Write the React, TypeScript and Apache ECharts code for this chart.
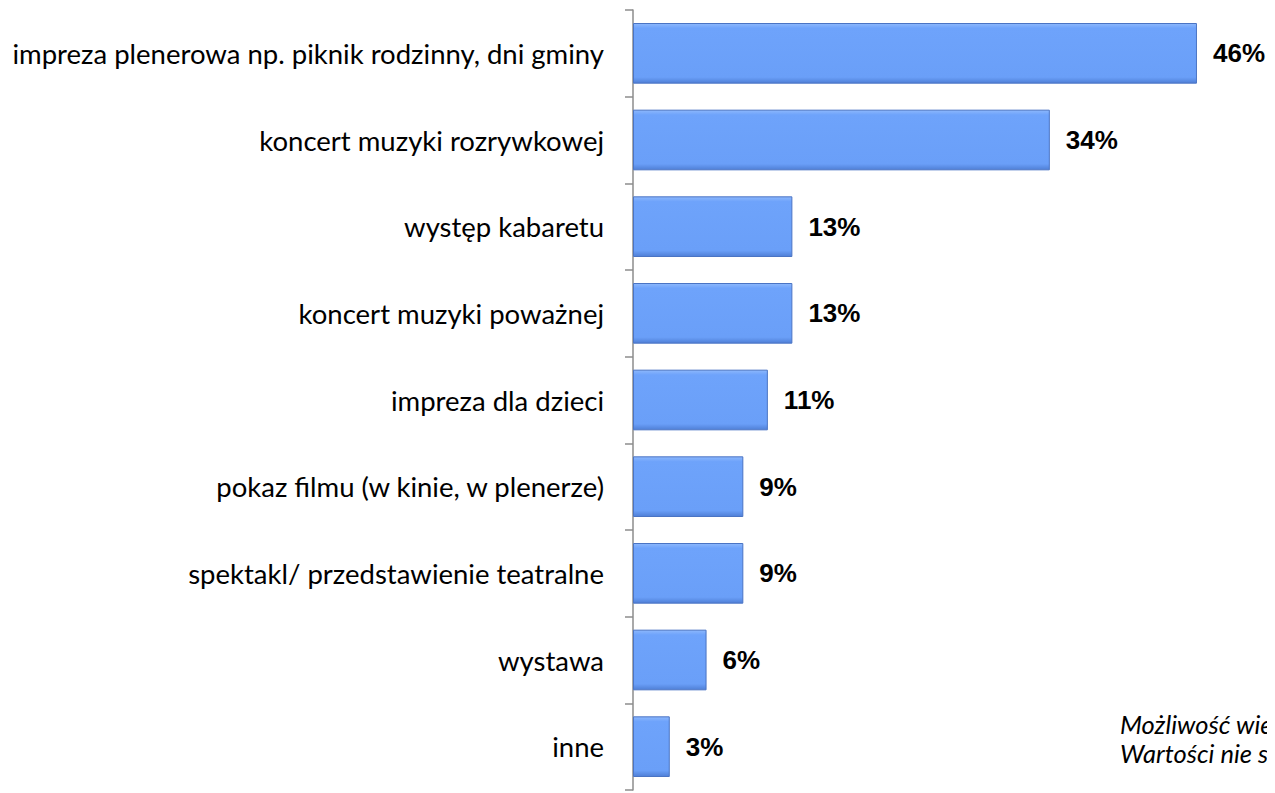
import React, { useEffect, useRef } from "react";
import * as echarts from "echarts";

const categories = [
  "impreza plenerowa np. piknik rodzinny, dni gminy",
  "koncert muzyki rozrywkowej",
  "występ kabaretu",
  "koncert muzyki poważnej",
  "impreza dla dzieci",
  "pokaz filmu (w kinie, w plenerze)",
  "spektakl/ przedstawienie teatralne",
  "wystawa",
  "inne",
];
const values = [46, 34, 13, 13, 11, 9, 9, 6, 3];
const noteLines = ["Możliwość wielokrotnego wyboru.", "Wartości nie sumują się do 100%."];

export default function App() {
  const ref = useRef<HTMLDivElement>(null);
  useEffect(() => {
    const chart = echarts.init(ref.current!, null, { renderer: "svg" });
    chart.setOption({
      animation: false,
      grid: { left: 625, top: 2, width: 613, height: 780, containLabel: false },
      xAxis: { type: "value", min: 0, max: 50, show: false },
      yAxis: {
        type: "category",
        data: categories,
        inverse: true,
        axisLine: { show: true, lineStyle: { color: "#8c8c8c", width: 1.5 } },
        axisTick: { show: true, length: 8, lineStyle: { color: "#8c8c8c", width: 1.5 } },
        axisLabel: {
          margin: 29,
          color: "#000",
          fontFamily: "Lato",
          fontSize: 27.5,
        },
      },
      series: [
        {
          type: "bar",
          data: values,
          barCategoryGap: "30%",
          itemStyle: {
            color: {
              type: "linear",
              x: 0,
              y: 0,
              x2: 0,
              y2: 1,
              colorStops: [
                { offset: 0, color: "#8db8fc" },
                { offset: 0.08, color: "#6ea3fb" },
                { offset: 0.9, color: "#6a9ff8" },
                { offset: 1, color: "#4f7fd6" },
              ],
            },
            borderColor: "#4a74c4",
            borderWidth: 1,
          },
          label: {
            show: true,
            position: "right",
            distance: 16,
            formatter: "{c}%",
            color: "#000",
            fontFamily: "Liberation Sans",
            fontWeight: "bold",
            fontSize: 26,
          },
        },
      ],
      graphic: noteLines.map((t, i) => ({
        type: "text",
        left: 1112,
        top: 703 + i * 29,
        style: {
          text: t,
          fill: "#000",
          fontFamily: "Lato",
          fontStyle: "italic",
          fontSize: 25.5,
        },
      })),
    });
    return () => chart.dispose();
  }, []);
  return <div ref={ref} style={{ width: 1259, height: 785 }} />;
}
